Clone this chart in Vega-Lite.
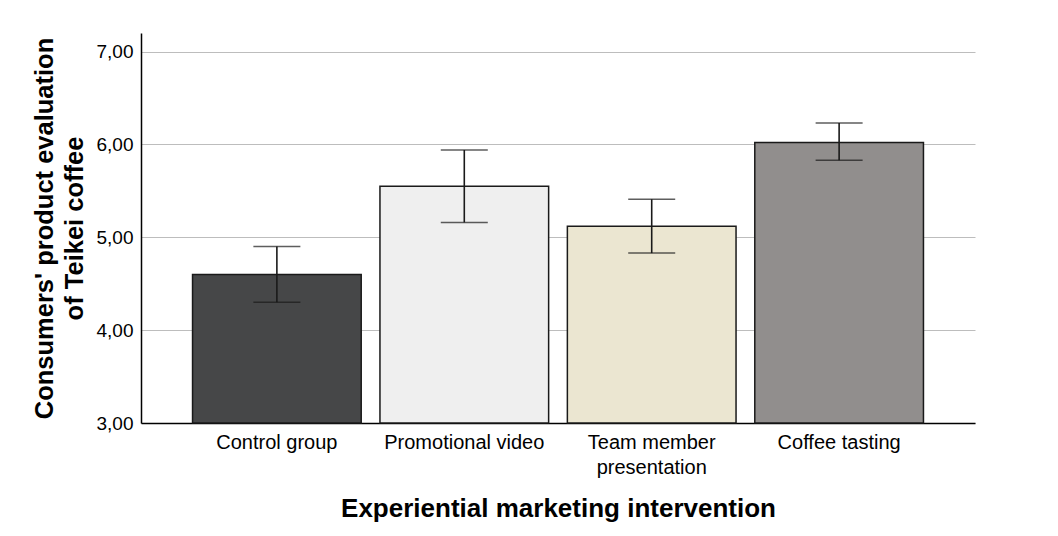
{
  "$schema": "https://vega.github.io/schema/vega-lite/v6.json",
  "width": 834,
  "height": 390,
  "autosize": "none",
  "padding": {"left": 141, "top": 33, "right": 83, "bottom": 113},
  "background": "white",
  "config": {
    "view": {"stroke": null},
    "font": "Liberation Sans",
    "axis": {"labelFont": "Liberation Sans", "titleFont": "Liberation Sans"}
  },
  "data": {
    "values": [
      {"group": "Control group", "mean": 4.60, "lo": 4.30, "hi": 4.90},
      {"group": "Promotional video", "mean": 5.55, "lo": 5.16, "hi": 5.94},
      {"group": "Team member presentation", "mean": 5.12, "lo": 4.83, "hi": 5.41},
      {"group": "Coffee tasting", "mean": 6.02, "lo": 5.83, "hi": 6.23}
    ]
  },
  "encoding": {
    "x": {
      "field": "group",
      "type": "nominal",
      "sort": null,
      "scale": {"paddingInner": 0.1, "paddingOuter": 0.275},
      "axis": {
        "title": "Experiential marketing intervention",
        "titleFontSize": 26,
        "titleFontWeight": "bold",
        "titleColor": "black",
        "titlePadding": 18,
        "labelAngle": 0,
        "labelFontSize": 20,
        "labelColor": "black",
        "labelPadding": 9,
        "labelExpr": "datum.label == 'Team member presentation' ? ['Team member', 'presentation'] : datum.label",
        "labelLineHeight": 25,
        "ticks": false,
        "domainColor": "black",
        "domainWidth": 1.5
      }
    }
  },
  "layer": [
    {
      "mark": {"type": "bar", "stroke": "#1a1a1a", "strokeWidth": 1.5},
      "encoding": {
        "y": {
          "field": "mean",
          "type": "quantitative",
          "scale": {"domain": [3, 7.2], "nice": false, "zero": false},
          "axis": {
            "title": ["Consumers' product evaluation", "of Teikei coffee"],
            "titleFontSize": 25.5,
            "titleFontWeight": "bold",
            "titleColor": "black",
            "titleLineHeight": 30,
            "titlePadding": 9,
            "values": [3, 4, 5, 6, 7],
            "labelExpr": "replace(format(datum.value, '.2f'), '.', ',')",
            "labelFontSize": 19,
            "labelColor": "black",
            "labelPadding": 8,
            "ticks": false,
            "grid": true,
            "gridColor": "#bdbdbd",
            "gridWidth": 1.2,
            "domainColor": "black",
            "domainWidth": 1.5
          }
        },
        "y2": {"datum": 3},
        "color": {
          "field": "group",
          "type": "nominal",
          "legend": null,
          "scale": {
            "domain": ["Control group", "Promotional video", "Team member presentation", "Coffee tasting"],
            "range": ["#464748", "#efefef", "#ebe6d1", "#918e8d"]
          }
        }
      }
    },
    {
      "mark": {"type": "rule", "color": "#1a1a1a", "strokeWidth": 1.6},
      "encoding": {
        "y": {"field": "lo", "type": "quantitative"},
        "y2": {"field": "hi"}
      }
    },
    {
      "mark": {"type": "tick", "color": "#1a1a1a", "size": 47, "thickness": 1.6},
      "encoding": {"y": {"field": "lo", "type": "quantitative"}}
    },
    {
      "mark": {"type": "tick", "color": "#1a1a1a", "size": 47, "thickness": 1.6},
      "encoding": {"y": {"field": "hi", "type": "quantitative"}}
    }
  ]
}
